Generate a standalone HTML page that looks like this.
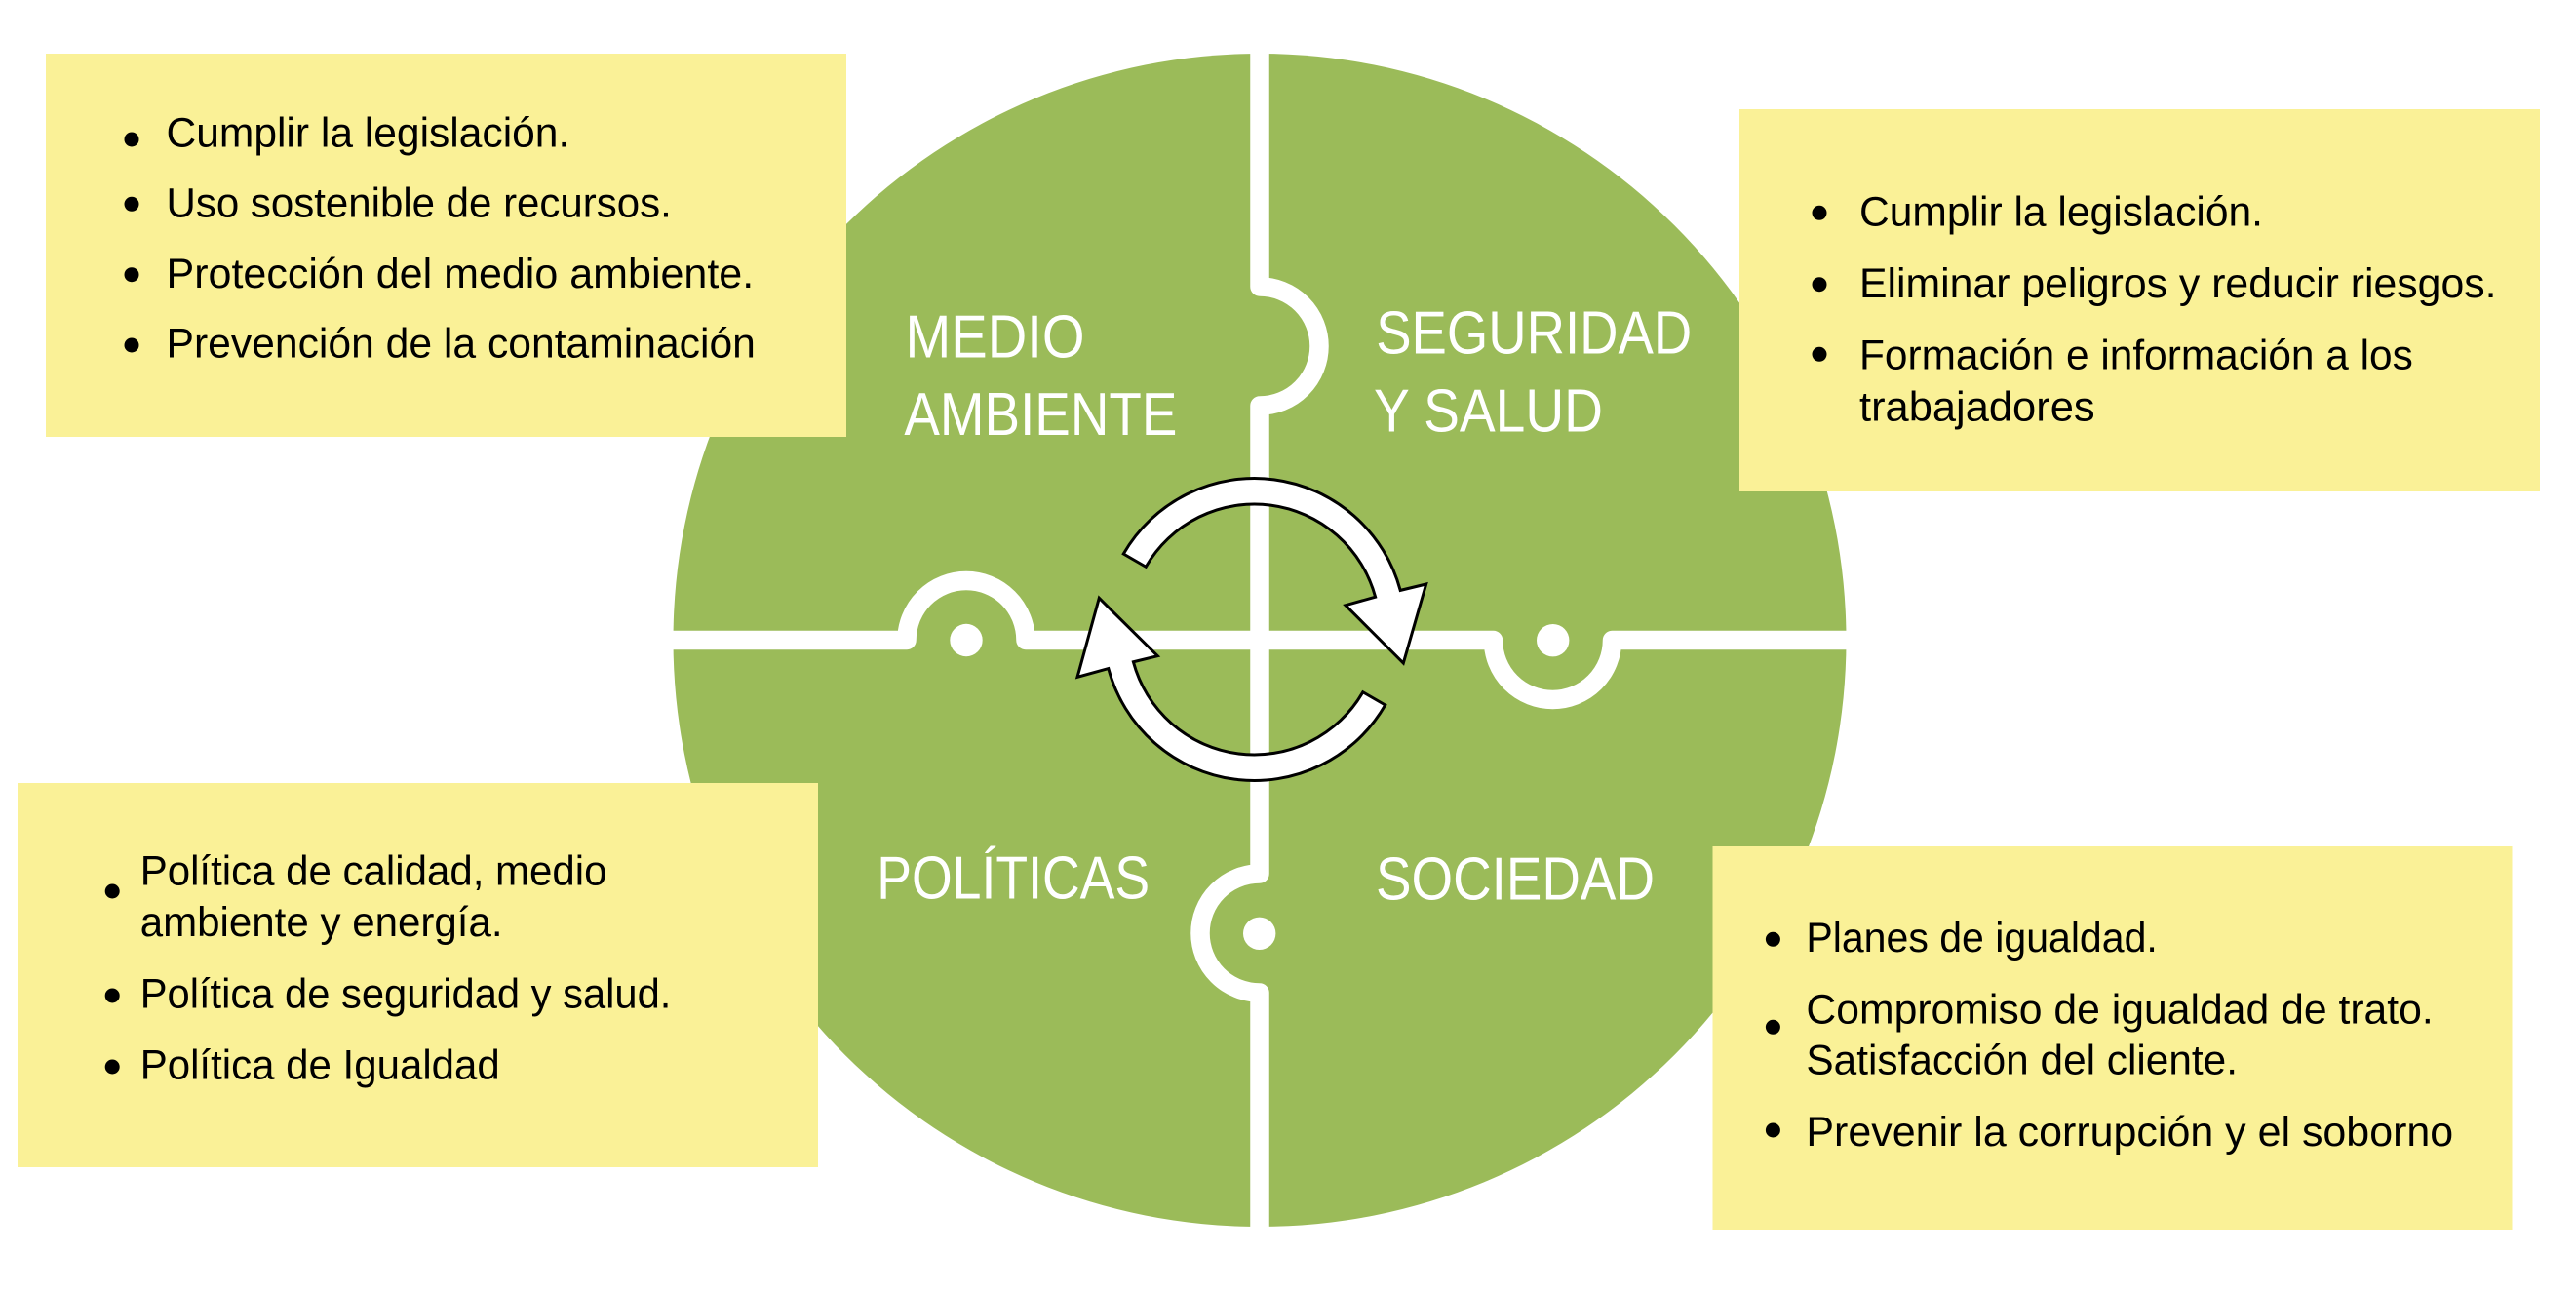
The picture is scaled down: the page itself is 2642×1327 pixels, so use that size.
<!DOCTYPE html>
<html>
<head>
<meta charset="utf-8">
<style>
  html, body { margin: 0; padding: 0; background: #ffffff; }
  svg { display: block; }
  .lbl { font-family: "Liberation Sans", sans-serif; font-size: 62px; fill: #ffffff; }
  .txt { font-family: "Liberation Sans", sans-serif; font-size: 43px; fill: #000000; }
</style>
</head>
<body>
<svg width="2642" height="1327" viewBox="0 0 2642 1327" xmlns="http://www.w3.org/2000/svg">
  <rect x="0" y="0" width="2642" height="1327" fill="#ffffff"/>

  <!-- Green circle -->
  <circle cx="1292" cy="656.5" r="601.5" fill="#9BBB59"/>

  <!-- White puzzle gaps -->
  <path d="M1292,20 V294 A61,61 0 0 1 1292,416 V896 A61,61 0 0 0 1292,1018 V1300"
        fill="none" stroke="#ffffff" stroke-width="19.5" stroke-linejoin="round"/>
  <path d="M660,656.5 H930 A61,61 0 0 1 1052,656.5 H1531.5 A61,61 0 0 0 1653.5,656.5 H1930"
        fill="none" stroke="#ffffff" stroke-width="19.5" stroke-linejoin="round"/>

  <!-- Dots -->
  <circle cx="991" cy="656.5" r="16.7" fill="#ffffff"/>
  <circle cx="1592.7" cy="656.7" r="16.7" fill="#ffffff"/>
  <circle cx="1291.7" cy="957.3" r="16.7" fill="#ffffff"/>

  <!-- Cycle arrows -->
  <path d="M1152.27,568 A155,155 0 0 1 1436.21,605.39 L1462.7,599 L1439.3,680 L1380,620.7 L1410.62,612.24 A128.5,128.5 0 0 0 1175.22,581.25 Z"
        fill="#ffffff" stroke="#000000" stroke-width="3" stroke-linejoin="miter"/>
  <path d="M1420.73,723 A155,155 0 0 1 1136.79,685.61 L1105,694.3 L1127.3,613.3 L1187.3,672.7 L1162.38,678.76 A128.5,128.5 0 0 0 1397.78,709.75 Z"
        fill="#ffffff" stroke="#000000" stroke-width="3" stroke-linejoin="miter"/>

  <!-- Quadrant labels -->
  <text class="lbl" x="928.5" y="366.7" textLength="184" lengthAdjust="spacingAndGlyphs">MEDIO</text>
  <text class="lbl" x="927.4" y="446" textLength="280" lengthAdjust="spacingAndGlyphs">AMBIENTE</text>
  <text class="lbl" x="1411.2" y="362.7" textLength="324" lengthAdjust="spacingAndGlyphs">SEGURIDAD</text>
  <text class="lbl" x="1409" y="442.3" textLength="235" lengthAdjust="spacingAndGlyphs">Y SALUD</text>
  <text class="lbl" x="899.2" y="921.7" textLength="280" lengthAdjust="spacingAndGlyphs">POLÍTICAS</text>
  <text class="lbl" x="1411" y="922.7" textLength="286" lengthAdjust="spacingAndGlyphs">SOCIEDAD</text>

  <!-- Top-left box -->
  <rect x="47" y="55" width="821" height="393" fill="#FAF197"/>
  <circle cx="135" cy="143" r="7.5" fill="#000"/>
  <circle cx="135" cy="209.3" r="7.5" fill="#000"/>
  <circle cx="135" cy="281.7" r="7.5" fill="#000"/>
  <circle cx="135" cy="354" r="7.5" fill="#000"/>
  <text class="txt" x="170.5" y="150.7" textLength="413.8" lengthAdjust="spacingAndGlyphs">Cumplir la legislación.</text>
  <text class="txt" x="170.5" y="222.7" textLength="518.3" lengthAdjust="spacingAndGlyphs">Uso sostenible de recursos.</text>
  <text class="txt" x="170.5" y="295" textLength="602.7" lengthAdjust="spacingAndGlyphs">Protección del medio ambiente.</text>
  <text class="txt" x="170.5" y="366.7" textLength="604.4" lengthAdjust="spacingAndGlyphs">Prevención de la contaminación</text>

  <!-- Top-right box -->
  <rect x="1784" y="112" width="821" height="392" fill="#FAF197"/>
  <circle cx="1866" cy="218.3" r="7.5" fill="#000"/>
  <circle cx="1866" cy="291.7" r="7.5" fill="#000"/>
  <circle cx="1866" cy="363.3" r="7.5" fill="#000"/>
  <text class="txt" x="1907" y="231.7" textLength="414" lengthAdjust="spacingAndGlyphs">Cumplir la legislación.</text>
  <text class="txt" x="1907" y="305" textLength="653.5" lengthAdjust="spacingAndGlyphs">Eliminar peligros y reducir riesgos.</text>
  <text class="txt" x="1907" y="378.3" textLength="567.8" lengthAdjust="spacingAndGlyphs">Formación e información a los</text>
  <text class="txt" x="1907" y="431.7" textLength="241.6" lengthAdjust="spacingAndGlyphs">trabajadores</text>

  <!-- Bottom-left box -->
  <rect x="18" y="803" width="821" height="394" fill="#FAF197"/>
  <circle cx="115.2" cy="914" r="7.5" fill="#000"/>
  <circle cx="115.2" cy="1021" r="7.5" fill="#000"/>
  <circle cx="115.2" cy="1094" r="7.5" fill="#000"/>
  <text class="txt" x="143.7" y="907.3" textLength="478.8" lengthAdjust="spacingAndGlyphs">Política de calidad, medio</text>
  <text class="txt" x="143.7" y="960" textLength="371.9" lengthAdjust="spacingAndGlyphs">ambiente y energía.</text>
  <text class="txt" x="143.7" y="1033.3" textLength="544.7" lengthAdjust="spacingAndGlyphs">Política de seguridad y salud.</text>
  <text class="txt" x="143.7" y="1106.7" textLength="369.1" lengthAdjust="spacingAndGlyphs">Política de Igualdad</text>

  <!-- Bottom-right box -->
  <rect x="1756.5" y="868" width="820" height="393" fill="#FAF197"/>
  <circle cx="1818.4" cy="963.3" r="7.5" fill="#000"/>
  <circle cx="1818.4" cy="1053.3" r="7.5" fill="#000"/>
  <circle cx="1818.4" cy="1159" r="7.5" fill="#000"/>
  <text class="txt" x="1852.4" y="976" textLength="360.4" lengthAdjust="spacingAndGlyphs">Planes de igualdad.</text>
  <text class="txt" x="1852.4" y="1049.3" textLength="643.4" lengthAdjust="spacingAndGlyphs">Compromiso de igualdad de trato.</text>
  <text class="txt" x="1852.4" y="1101.7" textLength="442.6" lengthAdjust="spacingAndGlyphs">Satisfacción del cliente.</text>
  <text class="txt" x="1852.4" y="1175" textLength="663.8" lengthAdjust="spacingAndGlyphs">Prevenir la corrupción y el soborno</text>
</svg>
</body>
</html>
